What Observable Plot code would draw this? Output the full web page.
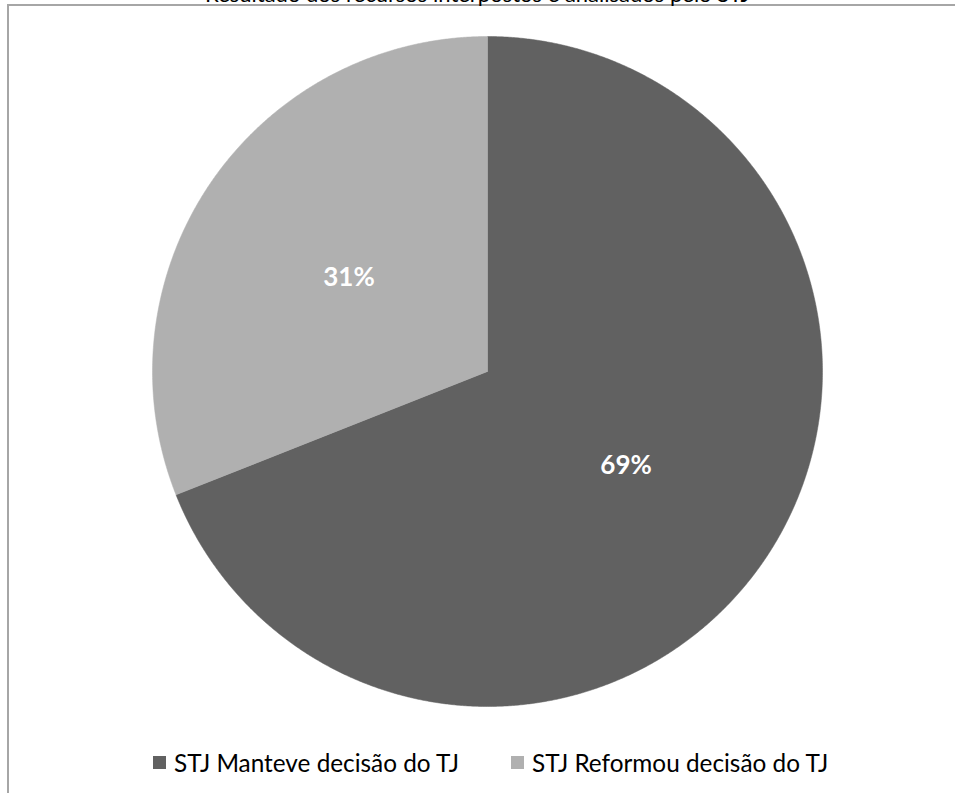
<!DOCTYPE html>
<html><head><meta charset="utf-8">
<script src="https://cdn.jsdelivr.net/npm/d3@7"></script>
<script src="https://cdn.jsdelivr.net/npm/@observablehq/plot@0.6"></script>
<style>
html,body{margin:0;padding:0;background:#fff;overflow:hidden;width:955px;height:793px}
#wrap{position:relative;width:955px;height:793px;overflow:hidden;font-family:Lato,"Open Sans",sans-serif}
#frame{position:absolute;left:7px;top:4px;width:2000px;height:2000px;border-left:2px solid #a6a6a6;border-top:2px solid #a6a6a6;box-sizing:border-box}
#title{position:absolute;left:0;width:955px;text-align:center;top:-17.5px;font-size:22px;line-height:22px;color:#000;white-space:nowrap}
#chart{position:absolute;left:0;top:0}
.item{position:absolute;top:748px;height:28px;display:flex;align-items:center;color:#000;white-space:nowrap}
.sw{width:13px;height:13px;margin-right:8px;flex:none}
</style></head><body><div id="wrap"><div id="frame"></div><div id="title"></div><div id="chart"></div></div>
<script>
const title = "Resultado dos recursos interpostos e analisados pelo STJ";
const categories = ["STJ Manteve decisão do TJ", "STJ Reformou decisão do TJ"];
const values = [69, 31];
const labels = ["69%", "31%"];
const colors = ["#616161", "#b0b0b0"];

document.getElementById("title").textContent = title;

const arcs = d3.pie().sort(null).value(d => d)(values);
const pts = [];
arcs.forEach((a, i) => {
  const key = categories[i];
  pts.push({key, x: 0, y: 0});
  const n = Math.max(8, Math.ceil((a.endAngle - a.startAngle) / 0.005));
  for (let k = 0; k <= n; k++) {
    const t = a.startAngle + (a.endAngle - a.startAngle) * k / n;
    pts.push({key, x: Math.sin(t), y: Math.cos(t)});
  }
  pts.push({key, x: 0, y: 0});
});
const lab = arcs.map((a, i) => {
  const m = (a.startAngle + a.endAngle) / 2;
  const r = 0.5;
  return {x: r * Math.sin(m), y: r * Math.cos(m), text: labels[i]};
});

const cx = 487, cy = 371, R = 335;
const plot = Plot.plot({
  width: 955, height: 793,
  marginTop: 0, marginRight: 0, marginBottom: 0, marginLeft: 0,
  style: {background: "transparent", overflow: "visible"},
  x: {domain: [-1, 1], range: [cx - R, cx + R], axis: null},
  y: {domain: [-1, 1], range: [cy + R, cy - R], axis: null},
  color: {domain: categories, range: colors},
  marks: [
    Plot.line(pts, {x: "x", y: "y", z: "key", fill: "key", stroke: "key", strokeWidth: 0.5, curve: "linear"}),
    Plot.text(lab, {x: "x", y: "y", text: "text", fill: "white", fontWeight: "bold", fontSize: 26, fontFamily: "Lato, 'Open Sans', sans-serif"})
  ]
});
document.getElementById("chart").appendChild(plot);

// legend
const wrap = document.getElementById("wrap");
const lefts = [153, 511];
const canvas = document.createElement("canvas").getContext("2d");
canvas.font = "26px Lato";
const w0 = canvas.measureText(categories[0]).width;
const fs = Math.max(18, Math.min(30, 26 * 286 / w0));
categories.forEach((c, i) => {
  const it = document.createElement("div");
  it.className = "item";
  it.style.left = lefts[i] + "px";
  it.style.fontSize = fs + "px";
  const sw = document.createElement("div");
  sw.className = "sw";
  sw.style.background = colors[i];
  const tx = document.createElement("span");
  tx.textContent = c;
  it.appendChild(sw); it.appendChild(tx);
  wrap.appendChild(it);
});
</script>
</body></html>
